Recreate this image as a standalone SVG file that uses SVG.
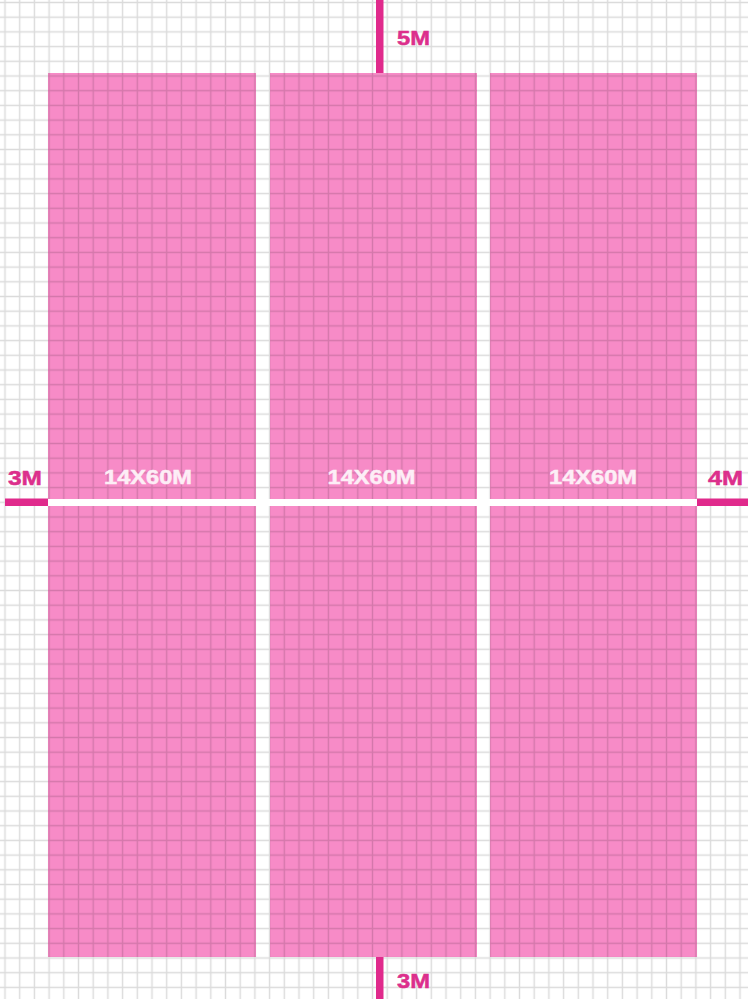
<svg xmlns="http://www.w3.org/2000/svg" width="748" height="999" viewBox="0 0 748 999">
  <defs>
    <pattern id="grid" patternUnits="userSpaceOnUse" x="-2.35" y="-4.85" width="14.7" height="14.7">
      <path d="M7.35 0 V14.7 M0 7.35 H14.7" stroke="#000" stroke-opacity="0.14" stroke-width="1.4" fill="none"/>
    </pattern>
  </defs>
  <style>
    .plot { fill: #f78bc7; }
    .bar { fill: #e02a8c; }
    .dim { font-family: "Liberation Sans", "DejaVu Sans", sans-serif; font-weight: bold; font-size: 21px; fill: #dc2f8c; stroke: #dc2f8c; stroke-width: 0.5; }
    .lbl { font-family: "Liberation Sans", "DejaVu Sans", sans-serif; font-weight: bold; font-size: 21px; fill: #fdeef6; stroke: #fdeef6; stroke-width: 0.5; text-anchor: middle; }
  </style>
  <rect x="0" y="0" width="748" height="999" fill="#ffffff"/>
  <g id="plot-1"><rect class="plot" x="48" y="73" width="208" height="884"/></g>
  <g id="plot-2"><rect class="plot" x="270" y="73" width="207" height="884"/></g>
  <g id="plot-3"><rect class="plot" x="490" y="73" width="207" height="884"/></g>
  <rect x="0" y="0" width="748" height="999" fill="url(#grid)"/>
  <rect x="48" y="499" width="649" height="7" fill="#ffffff"/>
  <g id="connectors">
    <rect class="bar" x="376" y="0" width="7.5" height="73"/>
    <rect class="bar" x="376" y="957" width="7.5" height="42"/>
    <rect class="bar" x="5" y="498.5" width="43" height="7.5"/>
    <rect class="bar" x="697" y="498.5" width="51" height="7.5"/>
  </g>
  <g id="labels">
    <text class="dim" x="397" y="45" textLength="33" lengthAdjust="spacingAndGlyphs">5M</text>
    <text class="dim" x="8" y="485" textLength="34" lengthAdjust="spacingAndGlyphs">3M</text>
    <text class="dim" x="708" y="485" textLength="35" lengthAdjust="spacingAndGlyphs">4M</text>
    <text class="dim" x="397" y="988" textLength="33" lengthAdjust="spacingAndGlyphs">3M</text>
    <text class="lbl" x="148" y="484" textLength="88" lengthAdjust="spacingAndGlyphs">14X60M</text>
    <text class="lbl" x="371.5" y="484" textLength="88" lengthAdjust="spacingAndGlyphs">14X60M</text>
    <text class="lbl" x="593" y="484" textLength="88" lengthAdjust="spacingAndGlyphs">14X60M</text>
  </g>
</svg>
